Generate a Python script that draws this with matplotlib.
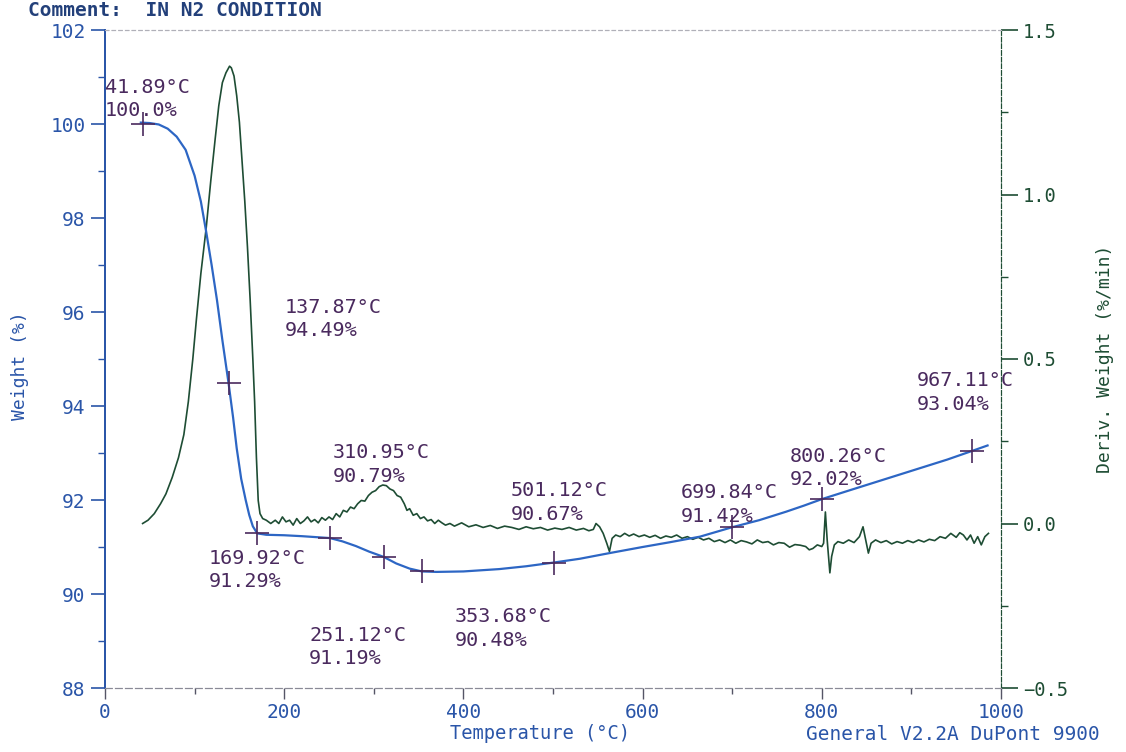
import matplotlib
matplotlib.use("Agg")
import matplotlib.pyplot as plt
from matplotlib.ticker import MultipleLocator

# ---- data ----
temp_w = [40, 50, 60, 70, 80, 90, 100, 107, 113, 119, 125, 131, 137.87, 143, 147, 152, 157, 161, 165,
          169.92, 180, 200, 220, 251.12, 265, 280, 295, 310.95, 325, 340, 353.68, 370, 400, 440, 470,
          501.12, 530, 563, 600, 630, 664, 699.84, 730, 760, 780, 800.26, 830, 860, 900, 940, 967.11, 985]
weight = [100.03, 100.02, 99.99, 99.9, 99.73, 99.45, 98.9, 98.35, 97.7, 97.0, 96.25, 95.4, 94.49, 93.75,
          93.1, 92.45, 92.0, 91.68, 91.44, 91.29, 91.26, 91.25, 91.23, 91.19, 91.12, 91.02, 90.9, 90.79,
          90.65, 90.54, 90.48, 90.47, 90.48, 90.53, 90.59, 90.67, 90.75, 90.87, 91.0, 91.1, 91.22, 91.42,
          91.57, 91.75, 91.88, 92.02, 92.2, 92.38, 92.62, 92.86, 93.04, 93.16]

deriv_points = [
    (42, 0.0), (48, 0.01), (55, 0.03), (62, 0.06), (68, 0.09), (75, 0.14), (82, 0.2), (88, 0.27),
    (93, 0.37), (98, 0.5), (102, 0.62), (107, 0.76), (113, 0.9), (118, 1.04), (123, 1.17), (127, 1.27),
    (131, 1.34), (135, 1.37), (139, 1.39), (141, 1.385), (144, 1.36), (147, 1.3), (150, 1.22),
    (153, 1.1), (156, 0.98), (159, 0.84), (162, 0.68), (165, 0.5), (167, 0.37), (169, 0.2), (171, 0.07),
    (173, 0.03), (176, 0.015), (180, 0.01), (185, 0.0), (190, 0.01), (194, 0.0), (198, 0.02),
    (202, 0.005), (206, 0.01), (210, -0.005), (214, 0.015), (218, 0.0), (222, 0.008), (226, 0.02),
    (230, 0.005), (234, 0.012), (238, 0.002), (242, 0.018), (246, 0.01), (250, 0.02), (254, 0.012),
    (258, 0.03), (262, 0.02), (266, 0.04), (270, 0.035), (274, 0.05), (278, 0.045), (282, 0.06),
    (286, 0.07), (290, 0.068), (294, 0.085), (298, 0.095), (302, 0.1), (306, 0.112), (310, 0.117),
    (314, 0.115), (318, 0.105), (322, 0.1), (326, 0.085), (330, 0.08), (334, 0.06), (337, 0.04),
    (340, 0.045), (344, 0.025), (348, 0.03), (352, 0.015), (356, 0.02), (360, 0.008), (364, 0.012),
    (368, 0.0), (372, 0.01), (376, 0.002), (380, -0.005), (385, 0.0), (390, -0.008), (398, 0.002),
    (406, -0.01), (414, -0.004), (422, -0.012), (430, -0.006), (438, -0.015), (446, -0.008),
    (454, -0.012), (462, -0.018), (470, -0.01), (478, -0.016), (486, -0.012), (494, -0.02),
    (502, -0.014), (510, -0.018), (518, -0.012), (526, -0.02), (534, -0.015), (540, -0.022),
    (545, -0.018), (548, 0.0), (552, -0.01), (556, -0.03), (560, -0.06), (563, -0.085), (566, -0.045),
    (570, -0.035), (575, -0.04), (580, -0.03), (585, -0.038), (590, -0.032), (596, -0.04),
    (602, -0.035), (608, -0.042), (614, -0.036), (620, -0.045), (626, -0.038), (632, -0.042),
    (638, -0.035), (644, -0.045), (650, -0.04), (656, -0.048), (662, -0.042), (668, -0.05),
    (674, -0.045), (680, -0.055), (686, -0.05), (692, -0.058), (698, -0.05), (704, -0.06),
    (710, -0.052), (716, -0.056), (722, -0.062), (728, -0.05), (734, -0.058), (740, -0.055),
    (746, -0.065), (752, -0.058), (758, -0.06), (764, -0.072), (770, -0.064), (776, -0.066),
    (782, -0.07), (786, -0.08), (790, -0.076), (795, -0.065), (800, -0.07), (802, -0.06),
    (804, 0.035), (806, -0.05), (809, -0.15), (811, -0.1), (814, -0.065), (818, -0.055), (824, -0.06),
    (830, -0.05), (836, -0.058), (842, -0.04), (846, -0.01), (849, -0.05), (852, -0.09), (855, -0.06),
    (860, -0.05), (866, -0.058), (872, -0.052), (878, -0.062), (884, -0.055), (890, -0.06),
    (896, -0.052), (902, -0.058), (908, -0.05), (914, -0.056), (920, -0.048), (926, -0.052),
    (932, -0.04), (938, -0.045), (944, -0.03), (950, -0.042), (954, -0.028), (958, -0.035),
    (962, -0.05), (966, -0.035), (970, -0.06), (974, -0.04), (978, -0.065), (982, -0.04), (986, -0.03),
]
temp_d = [p[0] for p in deriv_points]
deriv = [p[1] for p in deriv_points]

marker_t = [41.89, 137.87, 169.92, 251.12, 310.95, 353.68, 501.12, 699.84, 800.26, 967.11]
marker_w = [100.0, 94.49, 91.29, 91.19, 90.79, 90.48, 90.67, 91.42, 92.02, 93.04]

# ---- style ----
BLUE = "#2d66c4"
AXBLUE = "#2a55a8"
GREEN = "#1e4d34"
PURPLE = "#4a2a5e"
MONO = "DejaVu Sans Mono"

fig = plt.figure(figsize=(11.26, 7.52), dpi=100)
ax = fig.add_axes([105 / 1126, 64 / 752, 896 / 1126, 658 / 752])
ax2 = ax.twinx()

ax.plot(temp_w, weight, color=BLUE, lw=1.6, zorder=3)
ax2.plot(temp_d, deriv, color=GREEN, lw=1.2, zorder=2)
ax.plot(marker_t, marker_w, ls="none", marker="+", ms=17, mew=1.2, color=PURPLE, zorder=4)

ax.set_xlim(0, 1000)
ax.set_ylim(88, 102)
ax2.set_ylim(-0.5, 1.5)
ax.set_zorder(ax2.get_zorder() + 1)
ax.patch.set_visible(False)

ax.xaxis.set_major_locator(MultipleLocator(200))
ax.xaxis.set_minor_locator(MultipleLocator(100))
ax.yaxis.set_major_locator(MultipleLocator(2))
ax.yaxis.set_minor_locator(MultipleLocator(1))
ax2.yaxis.set_major_locator(MultipleLocator(0.5))
ax2.yaxis.set_minor_locator(MultipleLocator(0.25))

ax.tick_params(axis="y", which="major", length=10, width=1.2, color=AXBLUE, labelcolor=AXBLUE,
               labelsize=14, pad=4)
ax.tick_params(axis="y", which="minor", length=5, width=1.0, color=AXBLUE)
ax.tick_params(axis="x", which="major", length=8, width=1.0, color="#555566", labelcolor=AXBLUE,
               labelsize=14, pad=3)
ax.tick_params(axis="x", which="minor", length=4, width=1.0, color="#555566")
ax2.tick_params(axis="y", which="major", length=12, width=1.2, color=GREEN, labelcolor=GREEN,
                labelsize=13.5, pad=4)
ax2.tick_params(axis="y", which="minor", length=5, width=1.0, color=GREEN)
for lab in ax.get_xticklabels() + ax.get_yticklabels() + ax2.get_yticklabels():
    lab.set_family(MONO)

for a in (ax, ax2):
    a.spines["top"].set_color("#b0b0b8")
    a.spines["top"].set_linestyle((0, (3, 3)))
    a.spines["bottom"].set_color("#8a8a96")
    a.spines["bottom"].set_linestyle((0, (6, 3)))
    a.spines["left"].set_color(AXBLUE)
    a.spines["left"].set_linewidth(1.3)
    a.spines["right"].set_color(GREEN)
    a.spines["right"].set_linestyle((0, (4, 2)))

ax.set_xlabel("Temperature (°C)", family=MONO, color=AXBLUE, fontsize=13.5)
ax.xaxis.set_label_coords(0.485, -0.055)
ax.set_ylabel("Weight (%)", family=MONO, color=AXBLUE, fontsize=13)
ax.yaxis.set_label_coords(-0.085, 0.49)
ax2.set_ylabel("Deriv. Weight (%/min)", family=MONO, color=GREEN, fontsize=13, labelpad=20)

fig.text(28 / 1126, 1 - 11 / 752, "Comment:  IN N2 CONDITION", family=MONO, color="#23407a",
         fontsize=14, fontweight="semibold", ha="left", va="center")
fig.text(1100 / 1126, 1 - 735 / 752, "General V2.2A DuPont 9900", family=MONO, color=AXBLUE,
         fontsize=14, ha="right", va="center")

labels = [
    (0, 100.98, "41.89°C\n100.0%"),
    (200.9, 96.30, "137.87°C\n94.49%"),
    (254.5, 93.21, "310.95°C\n90.79%"),
    (453, 92.40, "501.12°C\n90.67%"),
    (643, 92.36, "699.84°C\n91.42%"),
    (764.5, 93.13, "800.26°C\n92.02%"),
    (906, 94.74, "967.11°C\n93.04%"),
    (116, 90.96, "169.92°C\n91.29%"),
    (227.7, 89.32, "251.12°C\n91.19%"),
    (390.6, 89.72, "353.68°C\n90.48%"),
]
for x, y, s in labels:
    ax.text(x, y, s, family=MONO, color=PURPLE, fontsize=14.5, ha="left", va="top",
            linespacing=1.3, zorder=5)

fig.savefig("out.png", dpi=100)
